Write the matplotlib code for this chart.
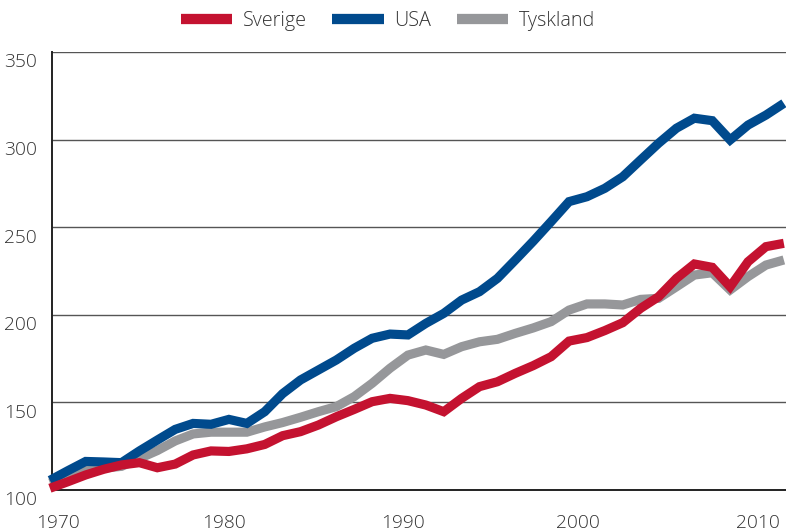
import matplotlib
matplotlib.use("Agg")
import matplotlib.pyplot as plt
import matplotlib.transforms as mtransforms

years = list(range(1971, 2013))

sverige = [101.0, 104.7, 108.6, 111.8, 114.3, 115.6, 112.7, 114.8, 120.0, 122.3,
           122.0, 123.5, 126.0, 131.0, 133.3, 137.1, 141.8, 146.0, 150.4, 152.3,
           151.0, 148.5, 144.7, 152.3, 159.0, 161.8, 166.6, 171.0, 176.1, 185.0,
           187.0, 191.0, 195.5, 203.7, 210.3, 220.8, 229.0, 227.1, 216.0, 230.3,
           238.9, 240.8]

usa = [105.5, 111.0, 116.3, 116.0, 115.6, 122.3, 128.5, 134.6, 138.0, 137.5,
       140.3, 138.0, 144.7, 155.0, 162.8, 168.5, 174.2, 180.9, 186.6, 189.0,
       188.5, 195.1, 200.8, 208.4, 213.2, 220.8, 231.3, 242.0, 253.2, 264.6,
       267.4, 272.2, 278.8, 288.4, 297.9, 306.5, 312.2, 310.8, 299.8, 308.3,
       314.0, 320.7]

tyskland = [104.0, 108.0, 111.0, 112.5, 113.5, 118.0, 122.5, 128.0, 132.0, 133.0,
            133.0, 133.0, 136.0, 138.5, 141.5, 144.7, 147.6, 153.3, 160.9, 169.5,
            177.0, 179.9, 177.4, 181.8, 184.6, 186.0, 189.4, 192.5, 196.1, 202.7,
            206.2, 206.2, 205.6, 208.8, 209.4, 216.0, 222.7, 224.0, 214.2, 221.8,
            228.4, 231.3]

tick_pos = [1971.45, 1980.7, 1990.75, 2000.5, 2010.55]
tick_labels = ["1970", "1980", "1990", "2000", "2010"]
y_ticks = [100, 150, 200, 250, 300, 350]

c_red = "#C41230"
c_blue = "#004A8D"
c_gray = "#96979A"
txt = "#333333"

plt.rcParams['font.family'] = ['Open Sans', 'DejaVu Sans']
plt.rcParams['font.weight'] = 'light'

fig = plt.figure(figsize=(7.86, 5.31), dpi=100)
ax = fig.add_axes([52/786, 41/531, 1 - 52/786, 438/531])

lw = 6.6
l3, = ax.plot(years, tyskland, color=c_gray, lw=lw, solid_joinstyle='miter',
              solid_capstyle='butt', clip_on=False, zorder=3, label="Tyskland")
l2, = ax.plot(years, usa, color=c_blue, lw=lw, solid_joinstyle='miter',
              solid_capstyle='butt', clip_on=False, zorder=4, label="USA")
l1, = ax.plot(years, sverige, color=c_red, lw=lw, solid_joinstyle='miter',
              solid_capstyle='butt', clip_on=False, zorder=5, label="Sverige")

ax.set_xlim(1971.117, 2012.12)
ax.set_ylim(100, 350)
ax.set_yticks(y_ticks)
ax.set_xticks(tick_pos)
ax.set_xticklabels(tick_labels)

ax.yaxis.grid(True, color="#555555", lw=1.0)
ax.set_axisbelow(True)
for s in ["top", "right"]:
    ax.spines[s].set_visible(False)
for s in ["left", "bottom"]:
    ax.spines[s].set_color("#222222")
    ax.spines[s].set_linewidth(1.4)

ax.tick_params(axis='both', length=0, labelsize=13.8, colors=txt)
ax.tick_params(axis='y', pad=11)
ax.tick_params(axis='x', pad=17)

off = mtransforms.ScaledTranslation(0, -6/72, fig.dpi_scale_trans)
for lab in ax.get_yticklabels():
    lab.set_transform(lab.get_transform() + off)

leg = fig.legend(handles=[l1, l2, l3], labels=["Sverige", "USA", "Tyskland"],
                 loc='center', bbox_to_anchor=(388/786, 1 - 21/531), ncol=3,
                 frameon=False, fontsize=14.2, handlelength=2.6,
                 handletextpad=0.55, columnspacing=1.3, labelcolor=txt)
for h in leg.legend_handles:
    h.set_linewidth(7.4)
    h.set_solid_capstyle('butt')

fig.savefig("out.png", dpi=100)
